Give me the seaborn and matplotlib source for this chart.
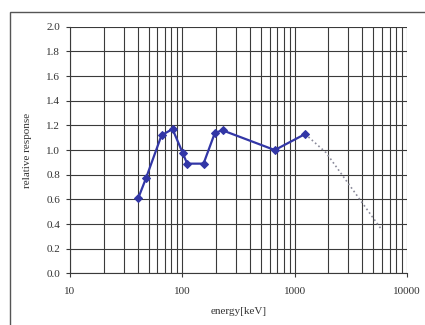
import matplotlib
matplotlib.use("Agg")
import matplotlib.pyplot as plt
import matplotlib.ticker as mticker
from matplotlib.patches import Rectangle
import seaborn as sns
import pandas as pd

# measured points (energy in keV, relative response)
energia = [40.5, 47.4, 65.3, 81.8, 100.4, 110.4, 154.5, 195, 228, 665, 1240]
resposta = [0.61, 0.77, 1.12, 1.17, 0.98, 0.89, 0.89, 1.14, 1.16, 1.00, 1.13]

# dotted extrapolation
energia_ext = [1240, 1900, 6000]
resposta_ext = [1.13, 0.98, 0.35]

sns.set_theme(style="white")
plt.rcParams['font.family'] = ['Liberation Serif', 'DejaVu Serif']

fig = plt.figure(figsize=(4.25, 3.25), dpi=100)
ax = fig.add_axes([0.1647, 0.1585, 0.7929, 0.7595])

df = pd.DataFrame({'energia': energia, 'resposta': resposta})
df_ext = pd.DataFrame({'energia': energia_ext, 'resposta': resposta_ext})

ax.set_xscale('log')
ax.set_xlim(10, 10000)
ax.set_ylim(0, 2.0)

# grid
ax.yaxis.set_major_locator(mticker.MultipleLocator(0.2))
ax.yaxis.set_major_formatter(mticker.FormatStrFormatter('%.1f'))
ax.xaxis.set_major_locator(mticker.LogLocator(base=10))
ax.xaxis.set_minor_locator(mticker.LogLocator(base=10, subs=range(2, 10)))
ax.xaxis.set_major_formatter(mticker.FormatStrFormatter('%d'))
ax.xaxis.set_minor_formatter(mticker.NullFormatter())
ax.grid(True, which='major', color='#3a3a3a', linewidth=0.8)
ax.grid(True, which='minor', axis='x', color='#3a3a3a', linewidth=0.8)
ax.set_axisbelow(True)

sns.lineplot(data=df_ext, x='energia', y='resposta', ax=ax, color='#8a8a9a',
             linestyle=':', linewidth=1.2)
sns.lineplot(data=df, x='energia', y='resposta', ax=ax, color='#3236a6',
             linewidth=1.6, marker='D', markersize=4.5, markeredgecolor='#3236a6')

for s in ['top', 'right']:
    ax.spines[s].set_visible(False)
for s in ['left', 'bottom']:
    ax.spines[s].set_color('#3a3a3a')
    ax.spines[s].set_linewidth(0.8)

ax.tick_params(axis='both', which='major', labelsize=8, length=3, width=0.8,
               color='#3a3a3a', labelcolor='#333333', pad=4)
ax.tick_params(axis='x', which='minor', length=0)
ax.tick_params(axis='x', which='major', pad=7)
ax.tick_params(left=True, bottom=True)

ax.set_xlabel('energy[keV]', fontsize=8, color='#333333', labelpad=8)
ax.set_ylabel('relative response', fontsize=8, color='#333333', labelpad=10)

# outer frame
fig.patches.append(Rectangle((10 / 425, -0.1), 1.2, 313 / 325 + 0.1,
                             transform=fig.transFigure, fill=False,
                             edgecolor='#555555', linewidth=1.0))

fig.savefig('out.png', dpi=100)
